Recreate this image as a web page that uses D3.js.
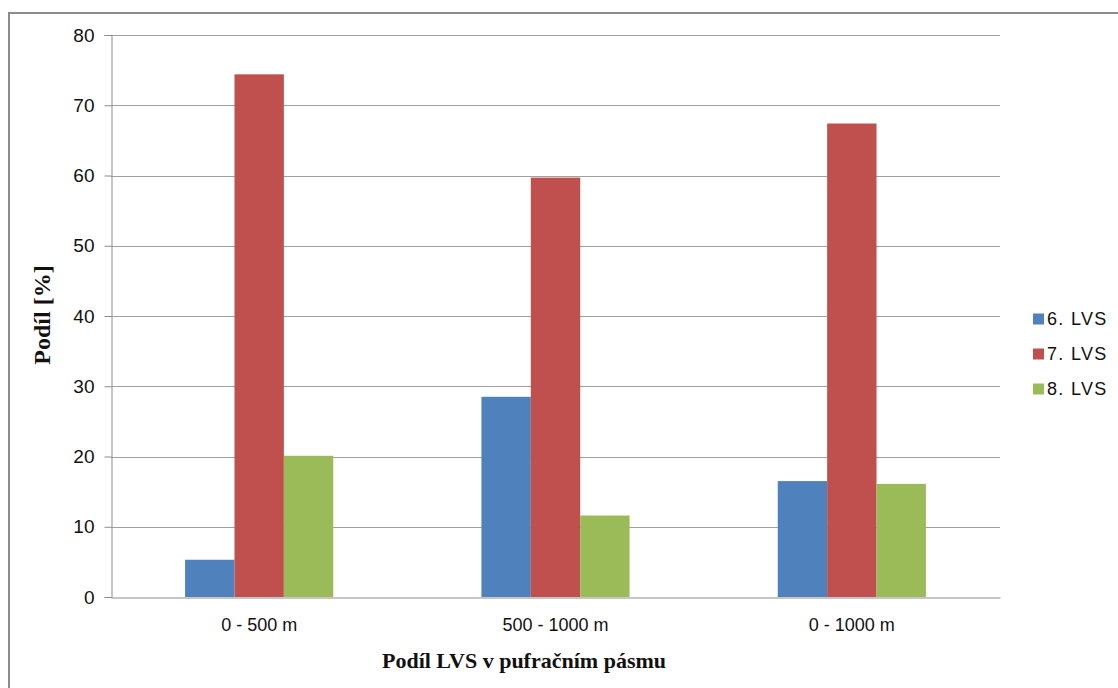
<!DOCTYPE html>
<html>
<head>
<meta charset="utf-8">
<script src="https://cdn.jsdelivr.net/npm/d3@7"></script>
<style>
  html, body { margin: 0; padding: 0; background: #fff; }
  svg { display: block; }
</style>
</head>
<body>
<svg id="chart" width="1118" height="688"></svg>
<script>
// Buffer-zone categories and the share of each LVS (%)
const categories = ["0 - 500 m", "500 - 1000 m", "0 - 1000 m"];
const seriesNames = ["6. LVS", "7. LVS", "8. LVS"];
const lvs6 = [5.3, 28.5, 16.5];
const lvs7 = [74.4, 59.7, 67.4];
const lvs8 = [20.1, 11.6, 16.1];
const yTicks = [0, 10, 20, 30, 40, 50, 60, 70, 80];
const colors = ["#4F81BD", "#C0504D", "#9BBB59"];

const seriesValues = [lvs6, lvs7, lvs8];

const svg = d3.select("#chart");
const W = 1118, H = 688;
const plot = { left: 111, right: 1000, top: 35, bottom: 597 };
const sans = "Liberation Sans, Arial, sans-serif";
const serif = "Liberation Serif, Times New Roman, serif";

// Outer chart frame
svg.append("rect")
  .attr("x", 9).attr("y", 13)
  .attr("width", W + 10).attr("height", H + 10)
  .attr("fill", "#fff")
  .attr("stroke", "#8c8c8c").attr("stroke-width", 2);

const x0 = d3.scaleBand()
  .domain(categories)
  .range([plot.left, plot.right])
  .paddingInner(0).paddingOuter(0);

const x1 = d3.scaleBand()
  .domain(seriesNames)
  .range([x0.bandwidth() / 4, x0.bandwidth() * 3 / 4])
  .padding(0);

const y = d3.scaleLinear().domain([0, 80]).range([plot.bottom, plot.top]);

// Horizontal gridlines
svg.append("g")
  .selectAll("line")
  .data(yTicks.filter(t => t > 0))
  .join("line")
  .attr("x1", plot.left).attr("x2", plot.right)
  .attr("y1", d => Math.round(y(d)) + 0.5).attr("y2", d => Math.round(y(d)) + 0.5)
  .attr("stroke", "#a0a0a0").attr("stroke-width", 1);

// Bars
const groups = svg.append("g")
  .selectAll("g")
  .data(categories)
  .join("g")
  .attr("transform", d => `translate(${x0(d)},0)`);

groups.selectAll("rect")
  .data((c, i) => seriesNames.map((s, k) => ({ s, v: seriesValues[k][i], k })))
  .join("rect")
  .attr("x", d => x1(d.s))
  .attr("width", x1.bandwidth())
  .attr("y", d => y(d.v))
  .attr("height", d => y(0) - y(d.v))
  .attr("fill", d => colors[d.k]);

// Y axis
const yAxis = d3.axisLeft(y)
  .tickValues(yTicks)
  .tickSize(7)
  .tickPadding(10)
  .tickFormat(d3.format("d"));

const gy = svg.append("g")
  .attr("transform", `translate(${plot.left + 0.5},0)`)
  .call(yAxis);
gy.select(".domain").attr("stroke", "#8c8c8c");
gy.selectAll(".tick line").attr("stroke", "#8c8c8c");
gy.selectAll(".tick text")
  .attr("font-family", sans)
  .attr("font-size", 19)
  .attr("fill", "#111");

// X axis
const xAxis = d3.axisBottom(x0).tickSize(0).tickPadding(21);
const gx = svg.append("g")
  .attr("transform", `translate(0,${plot.bottom + 0.5})`)
  .call(xAxis);
gx.select(".domain").attr("stroke", "#8c8c8c");
gx.selectAll(".tick text")
  .attr("font-family", sans)
  .attr("font-size", 18)
  .attr("fill", "#111");

// Axis titles
svg.append("text")
  .attr("x", 524).attr("y", 668)
  .attr("text-anchor", "middle")
  .attr("font-family", serif)
  .attr("font-weight", "bold")
  .attr("font-size", 22)
  .attr("fill", "#111")
  .text("Podíl LVS v pufračním pásmu");

svg.append("text")
  .attr("transform", "translate(50,315) rotate(-90)")
  .attr("text-anchor", "middle")
  .attr("font-family", serif)
  .attr("font-weight", "bold")
  .attr("font-size", 24)
  .attr("fill", "#111")
  .text("Podíl [%]");

// Legend
const legend = svg.append("g")
  .selectAll("g")
  .data(seriesNames)
  .join("g")
  .attr("transform", (d, i) => `translate(1033,${319 + i * 35})`);

legend.append("rect")
  .attr("x", 0).attr("y", -5.5)
  .attr("width", 11).attr("height", 11)
  .attr("fill", (d, i) => colors[i]);

legend.append("text")
  .attr("x", 14).attr("y", 0)
  .attr("dy", "0.36em")
  .attr("font-family", sans)
  .attr("font-size", 18)
  .attr("letter-spacing", 1.3)
  .attr("fill", "#111")
  .text(d => d);
</script>
</body>
</html>
